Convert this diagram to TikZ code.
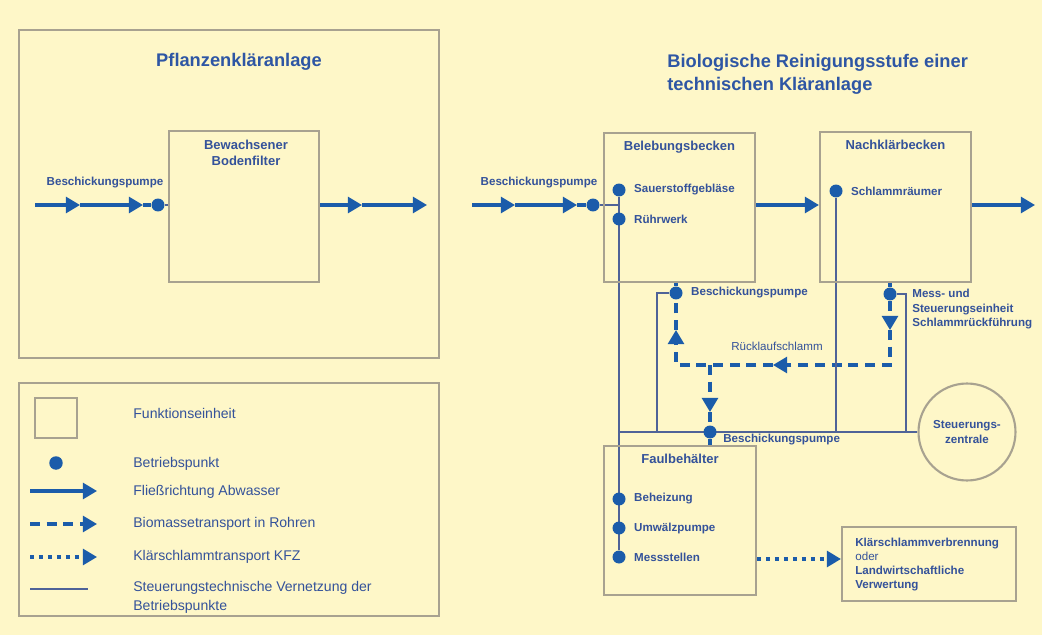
\documentclass[tikz,border=0pt]{standalone}
\usepackage{fontspec}
\setmainfont{Liberation Sans}
\usetikzlibrary{arrows.meta,positioning,calc}

\definecolor{bgyellow}{HTML}{FEF7C8}
\definecolor{boxgray}{HTML}{A8A290}
\definecolor{flowblue}{HTML}{1B5CAA}
\definecolor{txtblue}{HTML}{34529A}
\definecolor{titleblue}{HTML}{2E56A4}
\definecolor{ctrlblue}{HTML}{4F6398}

\pgfdeclarelayer{back}
\pgfdeclarelayer{pipes}
\pgfsetlayers{back,pipes,main}

\begin{document}
\begin{tikzpicture}[
  x=0.02cm, y=-0.02cm,
  unit/.style={draw=boxgray, line width=1.2pt, inner sep=0pt},
  bpt/.style={circle, fill=flowblue, inner sep=0pt, minimum size=0.26cm},
  pipe/.style={draw=flowblue, line width=1.8pt},
  flow/.style={pipe, -{Triangle[length=8pt,width=9pt]}},
  bioline/.style={pipe, dash pattern=on 5.7pt off 3.8pt},
  bio/.style={flow, dash pattern=on 5.7pt off 3.8pt},
  kfz/.style={flow, dash pattern=on 2.3pt off 2.8pt},
  ctrl/.style={draw=ctrlblue, line width=1pt},
  lbl/.style={font=\fontsize{6.6}{8.2}\selectfont\bfseries, text=txtblue, inner sep=0pt},
  plainlbl/.style={lbl, font=\fontsize{6.6}{8.2}\selectfont},
  unitlbl/.style={lbl, font=\fontsize{7.4}{9}\selectfont\bfseries},
  legtxt/.style={font=\fontsize{8}{10.8}\selectfont, text=txtblue, inner sep=0pt, anchor=west, align=left},
  title/.style={font=\fontsize{10.4}{13}\selectfont\bfseries, text=titleblue, inner sep=0pt}
]
\useasboundingbox (0,0) rectangle (1042,635);
\begin{pgfonlayer}{back}
  \fill[bgyellow] (0,0) rectangle (1042,635);
\end{pgfonlayer}

% Pflanzenklaeranlage
\node[unit, minimum width=8.4cm, minimum height=6.56cm] (pka) at (229,194) {};
\node[title] (pkatitle) at (239,62) {Pflanzenkläranlage};
\node[unit, minimum width=3.0cm, minimum height=3.02cm] (filter) at (244,206.5) {};
\node[unitlbl, align=center, below=0.2cm of filter.north, xshift=0.04cm] {Bewachsener\\Bodenfilter};
\coordinate (pin) at (35,205);
\coordinate (pa1) at (80,205);
\coordinate (pa2) at (143,205);
\node[bpt] (ppump) at (158,205) {};
\node[lbl] at (105,183) {Beschickungspumpe};
\coordinate (pa3) at (362,205);
\coordinate (pout) at (427,205);

% Legende
\node[unit, minimum width=8.4cm, minimum height=4.66cm] (legend) at (229,499.5) {};
\node[unit, minimum width=0.84cm, minimum height=0.8cm] (legunit) at (56,418) {};
\node[legtxt] at (133,413) {Funktionseinheit};
\node[bpt, minimum size=0.27cm] (legpt) at (56,463) {};
\node[legtxt] at (133,464) {Betriebspunkt};
\coordinate (lf0) at (30,491);  \coordinate (lf1) at (97,491);
\node[legtxt] at (133,492) {Fließrichtung Abwasser};
\coordinate (lb0) at (30,524);  \coordinate (lb1) at (97,524);
\node[legtxt] at (133,524) {Biomassetransport in Rohren};
\coordinate (lk0) at (30,557);  \coordinate (lk1) at (97,557);
\node[legtxt] at (133,557) {Klärschlammtransport KFZ};
\coordinate (lc0) at (30,589);  \coordinate (lc1) at (88,589);
\node[legtxt] at (133,597) {Steuerungstechnische Vernetzung der\\Betriebspunkte};

% Biologische Reinigungsstufe
\node[title, align=left, anchor=north west] at (667,54) {Biologische Reinigungsstufe einer\\technischen Kläranlage};

\node[unit, minimum width=3.02cm, minimum height=2.98cm] (beleb) at (679.5,207.5) {};
\node[unitlbl, below=0.17cm of beleb.north] {Belebungsbecken};
\node[bpt] (sauer) at (619,190) {};
\node[lbl, right=0.16cm of sauer] {Sauerstoffgebläse};
\node[bpt] (ruehr) at (619,219) {};
\node[lbl, right=0.16cm of ruehr] {Rührwerk};

\node[unit, minimum width=3.02cm, minimum height=3cm] (nach) at (895.5,207) {};
\node[unitlbl, below=0.17cm of nach.north] {Nachklärbecken};
\node[bpt] (raeumer) at (836,191) {};
\node[lbl, right=0.16cm of raeumer] {Schlammräumer};

\coordinate (bin) at (472,205);
\coordinate (ba1) at (515,205);
\coordinate (ba2) at (577,205);
\node[bpt] (bpump) at (593,205) {};
\node[lbl] at (539,183) {Beschickungspumpe};
\coordinate (bout) at (1035,205);

% Ruecklaufschlamm
\node[bpt] (rpump) at (676,293) {};
\node[lbl, right=0.16cm of rpump] {Beschickungspumpe};
\node[bpt] (mpoint) at (890,294) {};
\node[lbl, align=left, anchor=north west] at (912,289) {Mess- und\\Steuerungseinheit\\Schlammrückführung};
\coordinate (rdown) at (890,330);
\coordinate (rleft) at (773,365);
\coordinate (rup) at (676,330);
\coordinate (rT) at (710,365);
\coordinate (fdown) at (710,412);
\node[plainlbl] at (777,346) {Rücklaufschlamm};

% Faulbehaelter
\node[unit, minimum width=3.04cm, minimum height=2.98cm] (faul) at (680,520.5) {};
\node[unitlbl, below=0.17cm of faul.north] {Faulbehälter};
\node[bpt] (fpump) at (710,432) {};
\node[lbl, anchor=west] at (723,440) {Beschickungspumpe};
\node[bpt] (heiz) at (619,499) {};
\node[lbl, right=0.16cm of heiz] {Beheizung};
\node[bpt] (umw) at (619,528) {};
\node[lbl, right=0.16cm of umw] {Umwälzpumpe};
\node[bpt] (messst) at (619,557) {};
\node[lbl, right=0.16cm of messst] {Messstellen};

\node[circle, draw=boxgray, line width=1.2pt, minimum size=1.94cm, lbl, align=center] (zentrale) at (967,432) {Steuerungs-\\zentrale};

\node[unit, minimum width=3.48cm, minimum height=1.48cm] (verw) at (929,564) {};
\node[plainlbl, align=left, anchor=north west, font=\fontsize{6.6}{8}\selectfont] at (855,538) {\textbf{Klärschlammverbrennung}\\oder\\\textbf{Landwirtschaftliche}\\\textbf{Verwertung}};
\coordinate (kz) at (800,559);
\coordinate (cl) at (657,432);
\coordinate (cr) at (906,432);

\begin{pgfonlayer}{pipes}
  % Abwasser
  \draw[flow] (pin) -- (pa1);
  \draw[flow] (pa1) -- (pa2);
  \draw[pipe] (pa2) -- (ppump);
  \draw[ctrl] (ppump) -- (ppump -| filter.west);
  \draw[flow] (filter.east |- pa3) -- (pa3);
  \draw[flow] (pa3) -- (pout);
  \draw[flow] (bin) -- (ba1);
  \draw[flow] (ba1) -- (ba2);
  \draw[pipe] (ba2) -- (bpump);
  \draw[flow] (beleb.east |- bin) -- (nach.west |- bin);
  \draw[flow] (nach.east |- bin) -- (bout);
  % Biomasse
  \draw[pipe] (rpump) -- (rpump |- beleb.south);
  \draw[pipe] (mpoint) -- (mpoint |- nach.south);
  \draw[bio] (mpoint) -- (rdown);
  \draw[bio] (rdown) |- (rleft);
  \draw[bio] (rleft) -| (rup);
  \draw[bioline] (rup) -- (rpump);
  \draw[bio] (rT) -- (fdown);
  \draw[bioline] (fdown) -- (fpump);
  \draw[pipe] (fpump) -- (fpump |- faul.north);
  \draw[kfz] (faul.east |- kz) -- (verw.west |- kz);
  % Steuerung
  \draw[ctrl] (sauer) -- (messst);
  \draw[ctrl] (bpump) -- (bpump -| sauer);
  \draw[ctrl] (sauer |- zentrale) -- (zentrale);
  \draw[ctrl] (raeumer) -- (raeumer |- zentrale);
  \draw[ctrl] (rpump) -| (cl);
  \draw[ctrl] (mpoint) -| (cr);
  % Legende
  \draw[flow] (lf0) -- (lf1);
  \draw[bio] (lb0) -- (lb1);
  \draw[kfz] (lk0) -- (lk1);
  \draw[ctrl] (lc0) -- (lc1);
\end{pgfonlayer}
\end{tikzpicture}
\end{document}
